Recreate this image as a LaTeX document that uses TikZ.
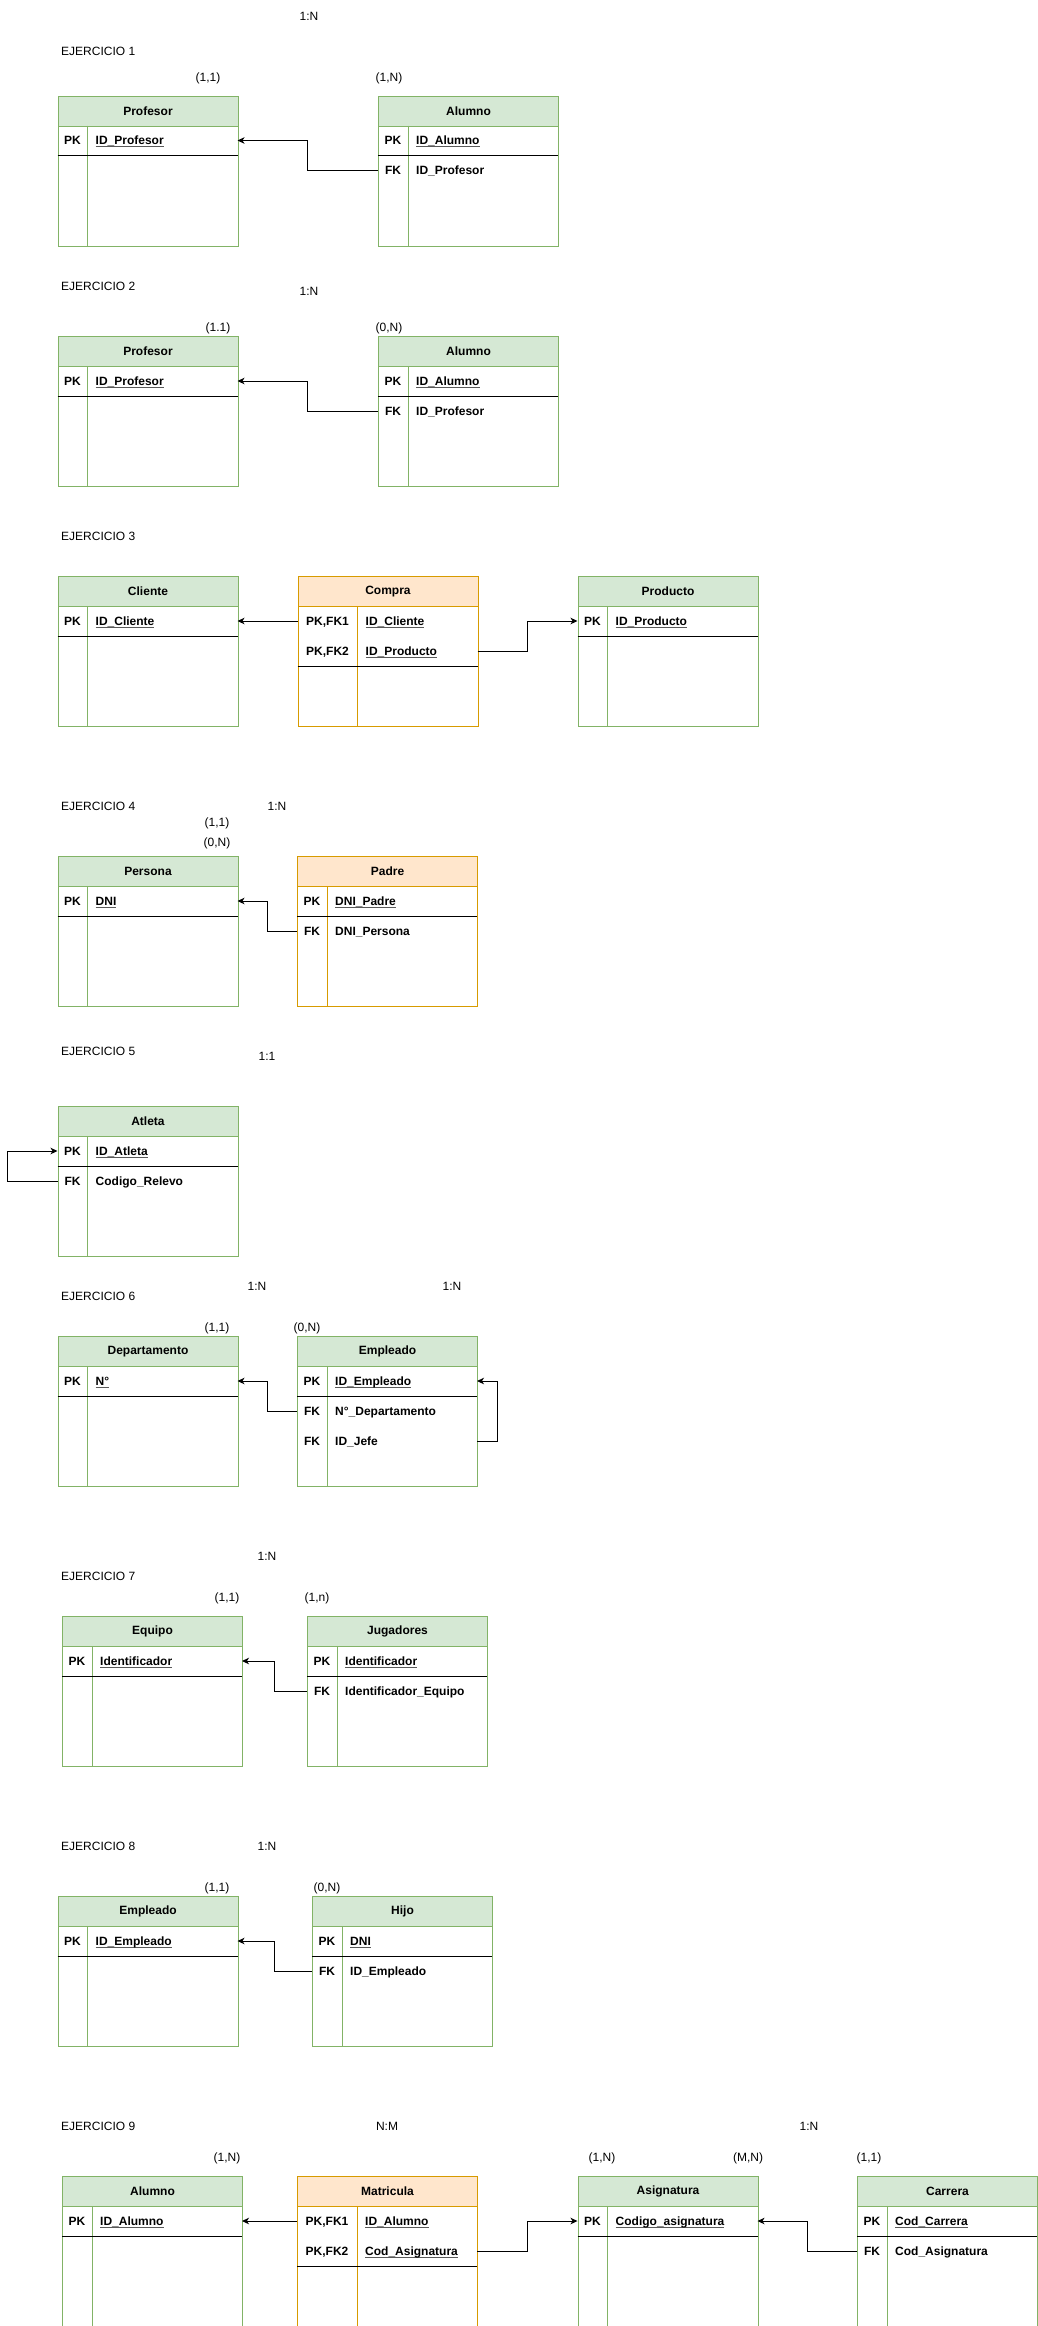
\documentclass[tikz,border=0pt]{standalone}
\usepackage{fontspec}
\setmainfont{Liberation Sans}
\usetikzlibrary{arrows.meta,calc}
\definecolor{gfill}{HTML}{D5E8D4}
\definecolor{gline}{HTML}{82B366}
\definecolor{ofill}{HTML}{FFE6CC}
\definecolor{oline}{HTML}{D79B00}
\newcommand\basefont{\fontsize{12}{14}\selectfont}
\newsavebox\ulbox
\newcommand\myul[1]{\sbox\ulbox{#1}\rlap{\textcolor{black!65}{\rule[-2.2pt]{\wd\ulbox}{0.9pt}}}\usebox\ulbox}
\tikzset{
  tbl/.style={draw, fill=white, minimum width=180, minimum height=150, inner sep=0, anchor=north west, line width=1pt},
  hdr/.style={minimum width=180, minimum height=30, inner sep=0, anchor=north west, line width=1pt, font=\basefont\bfseries},
  keylab/.style={anchor=base, inner sep=0, font=\basefont\bfseries},
  fld/.style={anchor=base west, inner sep=0, font=\basefont\bfseries},
  lbl/.style={anchor=base, inner sep=0, font=\basefont},
  ttl/.style={anchor=base west, inner sep=0, font=\basefont},
  fk/.style={draw=black, line width=1pt, -{Stealth[length=7pt,width=6.5pt,inset=2pt]}},
}
% name, x, y, keywidth, title, fill, line, number of key rows
\newcommand\ertable[8]{%
  \node[tbl, draw=#7] (#1) at (#2,#3) {};
  \node[hdr, fill=#6, draw=#7] (#1-h) at (#2,#3) {#5};
  \draw[#7, line width=1pt] (#2+#4,#3+30) -- (#2+#4,#3+150);
  \draw[black, line width=1pt] (#2,#3+30+30*#8) -- (#2+180,#3+30+30*#8);
  \foreach \i in {1,2,3} {%
    \coordinate (#1-w\i) at (#2,#3+15+30*\i);
    \coordinate (#1-e\i) at (#2+180,#3+15+30*\i);
  }%
}
% name, x, y, keywidth, row, key, field
\newcommand\errow[7]{%
  \node[keylab] (#1-k#5) at (#2+#4/2,#3+15+30*#5+4.3) {#6};
  \node[fld] (#1-f#5) at (#2+#4+8,#3+15+30*#5+4.3) {#7};
}
\newcommand\elbow[2]{\draw[fk] (#1) -| ($(#1)!.5!(#2)$) |- (#2);}
\begin{document}
\begin{tikzpicture}[x=1pt,y=-1pt]
\useasboundingbox (0,0) rectangle (1038,2326);

% ---------------- EJERCICIO 1
\node[lbl] (s1r) at (309,20.3) {1:N};
\node[ttl] (s1t) at (61,55.3) {EJERCICIO 1};
\node[lbl] (s1a) at (208,81.3) {(1,1)};
\node[lbl] (s1b) at (389,81.3) {(1,N)};
\ertable{pro1}{57.5}{95.5}{30}{Profesor}{gfill}{gline}{1}
\errow{pro1}{57.5}{95.5}{30}{1}{PK}{\myul{ID\_Profesor}}
\ertable{alu1}{378}{95.5}{30}{Alumno}{gfill}{gline}{1}
\errow{alu1}{378}{95.5}{30}{1}{PK}{\myul{ID\_Alumno}}
\errow{alu1}{378}{95.5}{30}{2}{FK}{ID\_Profesor}
\elbow{alu1-w2}{pro1-e1}

% ---------------- EJERCICIO 2
\node[ttl] (s2t) at (61,290.3) {EJERCICIO 2};
\node[lbl] (s2r) at (309,295.3) {1:N};
\node[lbl] (s2a) at (218,331.3) {(1.1)};
\node[lbl] (s2b) at (389,331.3) {(0,N)};
\ertable{pro2}{57.5}{336}{30}{Profesor}{gfill}{gline}{1}
\errow{pro2}{57.5}{336}{30}{1}{PK}{\myul{ID\_Profesor}}
\ertable{alu2}{378}{336}{30}{Alumno}{gfill}{gline}{1}
\errow{alu2}{378}{336}{30}{1}{PK}{\myul{ID\_Alumno}}
\errow{alu2}{378}{336}{30}{2}{FK}{ID\_Profesor}
\elbow{alu2-w2}{pro2-e1}

% ---------------- EJERCICIO 3
\node[ttl] (s3t) at (61,540.3) {EJERCICIO 3};
\ertable{cli}{57.5}{576}{30}{Cliente}{gfill}{gline}{1}
\errow{cli}{57.5}{576}{30}{1}{PK}{\myul{ID\_Cliente}}
\ertable{com}{297.5}{576}{60}{Compra}{ofill}{oline}{2}
\errow{com}{297.5}{576}{60}{1}{PK,FK1}{\myul{ID\_Cliente}}
\errow{com}{297.5}{576}{60}{2}{PK,FK2}{\myul{ID\_Producto}}
\ertable{prd}{577.5}{576}{30}{Producto}{gfill}{gline}{1}
\errow{prd}{577.5}{576}{30}{1}{PK}{\myul{ID\_Producto}}
\draw[fk] (com-w1) -- (cli-e1);
\elbow{com-e2}{prd-w1}

% ---------------- EJERCICIO 4
\node[ttl] (s4t) at (61,810.3) {EJERCICIO 4};
\node[lbl] (s4r) at (277,810.3) {1:N};
\node[lbl] (s4a) at (217,826.3) {(1,1)};
\node[lbl] (s4b) at (217,846.3) {(0,N)};
\ertable{per}{57.5}{856}{30}{Persona}{gfill}{gline}{1}
\errow{per}{57.5}{856}{30}{1}{PK}{\myul{DNI}}
\ertable{pad}{297}{856}{30}{Padre}{ofill}{oline}{1}
\errow{pad}{297}{856}{30}{1}{PK}{\myul{DNI\_Padre}}
\errow{pad}{297}{856}{30}{2}{FK}{DNI\_Persona}
\elbow{pad-w2}{per-e1}

% ---------------- EJERCICIO 5
\node[ttl] (s5t) at (61,1055.3) {EJERCICIO 5};
\node[lbl] (s5r) at (267,1060.3) {1:1};
\ertable{atl}{57.5}{1106}{30}{Atleta}{gfill}{gline}{1}
\errow{atl}{57.5}{1106}{30}{1}{PK}{\myul{ID\_Atleta}}
\errow{atl}{57.5}{1106}{30}{2}{FK}{Codigo\_Relevo}
\draw[fk] (atl-w2) -- ++(-50,0) |- (atl-w1);

% ---------------- EJERCICIO 6
\node[ttl] (s6t) at (61,1300.3) {EJERCICIO 6};
\node[lbl] (s6r) at (257,1290.3) {1:N};
\node[lbl] (s6q) at (452,1290.3) {1:N};
\node[lbl] (s6a) at (217,1331.3) {(1,1)};
\node[lbl] (s6b) at (307,1331.3) {(0,N)};
\ertable{dep}{57.5}{1336}{30}{Departamento}{gfill}{gline}{1}
\errow{dep}{57.5}{1336}{30}{1}{PK}{\myul{N°}}
\ertable{emp}{297}{1336}{30}{Empleado}{gfill}{gline}{1}
\errow{emp}{297}{1336}{30}{1}{PK}{\myul{ID\_Empleado}}
\errow{emp}{297}{1336}{30}{2}{FK}{N°\_Departamento}
\errow{emp}{297}{1336}{30}{3}{FK}{ID\_Jefe}
\elbow{emp-w2}{dep-e1}
\draw[fk] (emp-e3) -- ++(20,0) |- (emp-e1);

% ---------------- EJERCICIO 7
\node[lbl] (s7r) at (267,1560.3) {1:N};
\node[ttl] (s7t) at (61,1580.3) {EJERCICIO 7};
\node[lbl] (s7a) at (227,1601.3) {(1,1)};
\node[lbl] (s7b) at (317,1601.3) {(1,n)};
\ertable{equ}{62}{1616}{30}{Equipo}{gfill}{gline}{1}
\errow{equ}{62}{1616}{30}{1}{PK}{\myul{Identificador}}
\ertable{jug}{307}{1616}{30}{Jugadores}{gfill}{gline}{1}
\errow{jug}{307}{1616}{30}{1}{PK}{\myul{Identificador}}
\errow{jug}{307}{1616}{30}{2}{FK}{Identificador\_Equipo}
\elbow{jug-w2}{equ-e1}

% ---------------- EJERCICIO 8
\node[ttl] (s8t) at (61,1850.3) {EJERCICIO 8};
\node[lbl] (s8r) at (267,1850.3) {1:N};
\node[lbl] (s8a) at (217,1891.3) {(1,1)};
\node[lbl] (s8b) at (327,1891.3) {(0,N)};
\ertable{emq}{57.5}{1896}{30}{Empleado}{gfill}{gline}{1}
\errow{emq}{57.5}{1896}{30}{1}{PK}{\myul{ID\_Empleado}}
\ertable{hij}{312}{1896}{30}{Hijo}{gfill}{gline}{1}
\errow{hij}{312}{1896}{30}{1}{PK}{\myul{DNI}}
\errow{hij}{312}{1896}{30}{2}{FK}{ID\_Empleado}
\elbow{hij-w2}{emq-e1}

% ---------------- EJERCICIO 9
\node[ttl] (s9t) at (61,2130.3) {EJERCICIO 9};
\node[lbl] (s9r) at (387,2130.3) {N:M};
\node[lbl] (s9q) at (809,2130.3) {1:N};
\node[lbl] (s9a) at (227,2161.3) {(1,N)};
\node[lbl] (s9b) at (602,2161.3) {(1,N)};
\node[lbl] (s9c) at (748,2161.3) {(M,N)};
\node[lbl] (s9d) at (869,2161.3) {(1,1)};
\ertable{alm}{62}{2176}{30}{Alumno}{gfill}{gline}{1}
\errow{alm}{62}{2176}{30}{1}{PK}{\myul{ID\_Alumno}}
\ertable{mat}{297}{2176}{60}{Matricula}{ofill}{oline}{2}
\errow{mat}{297}{2176}{60}{1}{PK,FK1}{\myul{ID\_Alumno}}
\errow{mat}{297}{2176}{60}{2}{PK,FK2}{\myul{Cod\_Asignatura}}
\ertable{asi}{577.5}{2176}{30}{Asignatura}{gfill}{gline}{1}
\errow{asi}{577.5}{2176}{30}{1}{PK}{\myul{Codigo\_asignatura}}
\ertable{car}{857}{2176}{30}{Carrera}{gfill}{gline}{1}
\errow{car}{857}{2176}{30}{1}{PK}{\myul{Cod\_Carrera}}
\errow{car}{857}{2176}{30}{2}{FK}{Cod\_Asignatura}
\draw[fk] (mat-w1) -- (alm-e1);
\elbow{mat-e2}{asi-w1}
\elbow{car-w2}{asi-e1}
\end{tikzpicture}
\end{document}
